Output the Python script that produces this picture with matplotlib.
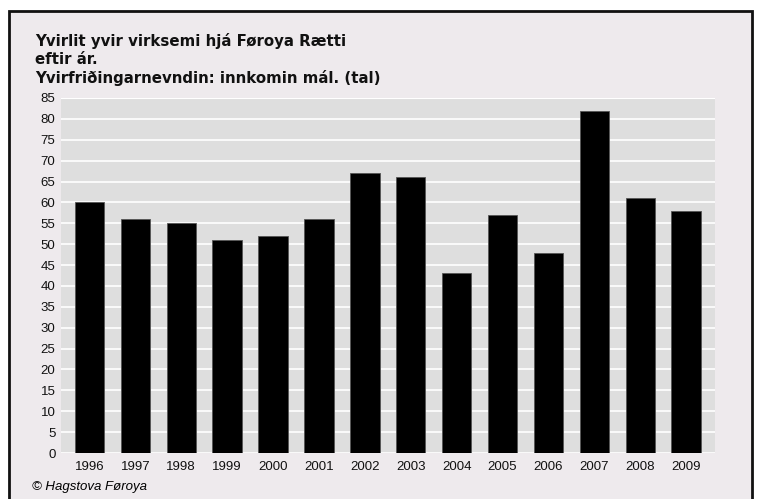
import matplotlib
matplotlib.use("Agg")
import matplotlib.pyplot as plt
from matplotlib.patches import Rectangle

years = ["1996", "1997", "1998", "1999", "2000", "2001", "2002",
         "2003", "2004", "2005", "2006", "2007", "2008", "2009"]
values = [60, 56, 55, 51, 52, 56, 67, 66, 43, 57, 48, 82, 61, 58]
yticks = list(range(0, 90, 5))

W, H = 758, 499
plt.rcParams["font.family"] = ["Liberation Sans", "DejaVu Sans"]
fig = plt.figure(figsize=(W / 100, H / 100), dpi=100)
fig.patch.set_facecolor("white")

# outer frame
frame = Rectangle((9 / W, -0.05), (752 - 9) / W, 1.05 - 11 / H,
                  transform=fig.transFigure, facecolor="#EEEAED",
                  edgecolor="#111111", linewidth=2, zorder=-5)
fig.patches.append(frame)

left, right, top, bottom = 61, 715, 98, 453
ax = fig.add_axes([left / W, 1 - bottom / H, (right - left) / W, (bottom - top) / H])
ax.set_zorder(2)
ax.set_facecolor("#DEDEDE")
x = list(range(len(years)))
ax.bar(x, values, width=0.64, color="black", edgecolor="#555555", linewidth=0.6, zorder=3)
ax.set_xlim(-0.62, 13.63)
ax.set_ylim(0, 85)
ax.set_yticks(yticks)
ax.set_yticklabels([str(t) for t in yticks], fontsize=9.5, color="#111111")
ax.set_xticks(x)
ax.set_xticklabels(years, fontsize=9.5, color="#111111")
ax.tick_params(axis="y", length=0, pad=4)
ax.tick_params(axis="x", length=0, pad=6)
ax.yaxis.grid(True, color="white", linewidth=1.2, zorder=1)
ax.set_axisbelow(True)
for s in ax.spines.values():
    s.set_visible(False)
ax.axhline(85, color="white", linewidth=1.5, zorder=1)

tfont = dict(fontsize=10.8, fontweight="bold", va="center", ha="left",
             family=["DejaVu Sans"], color="#111111")
fig.text(35 / W, 1 - 41 / H, "Yvirlit yvir virksemi hjá Føroya Rætti", **tfont)
fig.text(35 / W, 1 - 60 / H, "eftir ár.", **tfont)
fig.text(35 / W, 1 - 78 / H, "Yvirfriðingarnevndin: innkomin mál. (tal)", **tfont)
fig.text(32 / W, 1 - 487 / H, "© Hagstova Føroya",
         fontsize=9.5, fontstyle="italic", va="center", ha="left")

fig.savefig("out.png", dpi=100, facecolor="white")
